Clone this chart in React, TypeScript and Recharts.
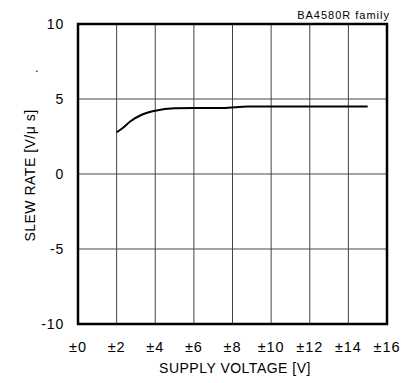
import React from "react";
import { LineChart, Line, XAxis, YAxis, CartesianGrid, ReferenceArea } from "recharts";

const supplyVoltage = [2, 2.3, 2.7, 3.3, 4, 5, 6, 7.5, 8.8, 10, 12, 15];
const slewRate = [2.78, 3.05, 3.5, 3.95, 4.22, 4.38, 4.4, 4.4, 4.5, 4.5, 4.5, 4.5];
const xTicks = [0, 2, 4, 6, 8, 10, 12, 14, 16];
const yTicks = [-10, -5, 0, 5, 10];

const data = supplyVoltage.map((v, i) => ({ v, sr: slewRate[i] }));

const FONT = "'Liberation Sans', Arial, sans-serif";

const XTick = (props: any) => {
  const { x, payload } = props;
  return (
    <text x={x} y={352} textAnchor="middle" fontFamily={FONT} fontSize={14.5} letterSpacing={0.9} fill="#000">
      {"±" + payload.value}
    </text>
  );
};

const YTick = (props: any) => {
  const { y, payload } = props;
  return (
    <text x={64} y={y + 5} textAnchor="end" fontFamily={FONT} fontSize={14} letterSpacing={0.8} fill="#000">
      {payload.value}
    </text>
  );
};

export default function App() {
  return (
    <div style={{ position: "absolute", left: 0, top: 0, width: 411, height: 383, background: "#fff" }}>
      <LineChart
        width={411}
        height={383}
        data={data}
        margin={{ top: 24, right: 24, bottom: 29, left: 0 }}
      >
        <CartesianGrid stroke="#444" strokeWidth={1} />
        <XAxis
          dataKey="v"
          type="number"
          domain={[0, 16]}
          ticks={xTicks}
          axisLine={false}
          tickLine={false}
          height={30}
          tick={<XTick />}
          interval={0}
        />
        <YAxis
          type="number"
          domain={[-10, 10]}
          ticks={yTicks}
          axisLine={false}
          tickLine={false}
          width={78}
          tick={<YTick />}
          interval={0}
        />
        <ReferenceArea x1={0} x2={16} y1={-10} y2={10} fill="none" stroke="#000" strokeWidth={2.5} ifOverflow="visible" />
        <Line
          dataKey="sr"
          type="monotone"
          stroke="#000"
          strokeWidth={2}
          dot={false}
          isAnimationActive={false}
        />
      </LineChart>
      <svg
        width={411}
        height={383}
        style={{ position: "absolute", left: 0, top: 0, pointerEvents: "none" }}
      >
        <text x={390} y={18.5} textAnchor="end" fontFamily={FONT} fontSize={11} letterSpacing={1} fill="#000">
          BA4580R  family
        </text>
        <text x={35} y={72} fontFamily={FONT} fontSize={13} fill="#000">.</text>
        <text
          x={35}
          y={175.5}
          transform="rotate(-90 35 175.5)"
          textAnchor="middle"
          fontFamily={FONT}
          fontSize={14}
          letterSpacing={0.5}
          fill="#000"
        >
          SLEW RATE [V/μ s]
        </text>
        <text x={235} y={373} textAnchor="middle" fontFamily={FONT} fontSize={14} letterSpacing={0.5} fill="#000">
          SUPPLY VOLTAGE [V]
        </text>
        <text x={224} y={395} textAnchor="middle" fontFamily={FONT} fontSize={16} fill="#000">
          Fig.100
        </text>
      </svg>
    </div>
  );
}
